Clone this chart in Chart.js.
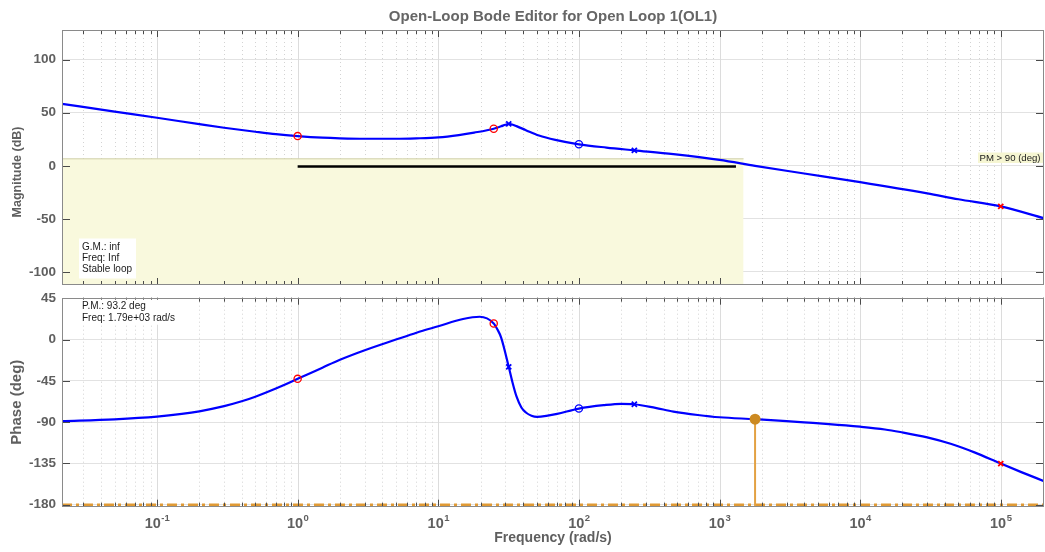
<!DOCTYPE html>
<html>
<head>
<meta charset="utf-8">
<title>Open-Loop Bode Editor</title>
<script src="https://cdn.jsdelivr.net/npm/chart.js"></script>
<style>
  body { margin: 0; background: #fff; }
  #wrap { position: relative; width: 1045px; height: 552px; }
  #magCanvas { position: absolute; left: 0; top: 0; }
  #phaseCanvas { position: absolute; left: 0; top: 290px; }
</style>
</head>
<body>
<div id="wrap">
  <canvas id="magCanvas" width="1045" height="290"></canvas>
  <canvas id="phaseCanvas" width="1045" height="262"></canvas>
</div>
<script>
// frequency range (rad/s)
const xMin = 0.0211;
const xMax = 203000;
const decadeExps = [-2, -1, 0, 1, 2, 3, 4, 5];
const labelDecades = [0.1, 1, 10, 100, 1000, 10000, 100000];

// magnitude curve
const magFreq = [0.0211, 0.05, 0.1, 0.2, 0.3, 0.5, 0.7, 1, 1.5, 2, 3, 5, 7, 10, 14, 18, 24.8, 28, 30, 31.7, 33.5, 36, 42, 52, 68, 100, 157, 248, 470, 1000, 1790, 4000, 10000, 30000, 50000, 100000, 203000];
const magDb = [58.4, 51.1, 45.3, 39.3, 35.9, 32.1, 29.8, 28.0, 26.5, 25.9, 25.5, 25.5, 25.9, 26.8, 29.0, 31.3, 35.0, 37.3, 38.7, 39.6, 39.0, 37.4, 33.6, 28.6, 24.5, 20.3, 17.2, 14.6, 11.0, 5.6, 0.0, -7.2, -15.4, -26.0, -31.5, -38.2, -49.4];
const magTicks = [100, 50, 0, -50, -100];

// phase curve
const phFreq = [0.0211, 0.05, 0.1, 0.15, 0.2, 0.3, 0.4, 0.5, 0.7, 1, 1.5, 2, 3, 5, 7, 10, 15, 19.7, 24.8, 26.3, 28, 31.7, 33.5, 36, 39, 42, 46, 50.4, 60, 70, 100, 150, 200, 248, 350, 470, 700, 1000, 1790, 3000, 4000, 6000, 10000, 15000, 19300, 30000, 44000, 65000, 100000, 140000, 203000];
const phDeg = [-88.9, -87.0, -84.1, -81.1, -78.2, -72.6, -67.3, -62.3, -53.4, -42.8, -30.6, -22.0, -11.6, 0, 7.5, 14.5, 22.4, 24.9, 17.6, 11.3, 2.2, -29.7, -45, -62, -74, -79.5, -83, -84.3, -83.0, -81, -75.2, -71.5, -70.0, -70.5, -74.5, -78.5, -82.2, -84.7, -86.8, -89.0, -90.3, -92.1, -95.0, -98.0, -100.8, -106.6, -113.6, -123, -135.2, -144.5, -154.3];
const phaseTicks = [45, 0, -45, -90, -135, -180];

// compensator / plant markers
const redCircleFreq = [1, 24.8];
const redCircleMag = [28.0, 35.0];
const redCirclePhase = [-42.8, 17.6];
const blueCircleFreq = [100];
const blueCircleMag = [20.3];
const blueCirclePhase = [-75.2];
const blueCrossFreq = [31.7, 248];
const blueCrossMag = [39.6, 14.6];
const blueCrossPhase = [-29.7, -70.5];
const redCrossFreq = [100000];
const redCrossMag = [-38.2];
const redCrossPhase = [-135.2];

// requirement region and margins
const regionFreq = [xMin, 1483];
const regionTop = 6.6;
const zeroLineFreq = [1, 1309];
const zeroLineDb = -0.6;
const pmFreq = 1790;
const pmPhase = -86.8;
const phaseFloor = -180;

const FONT = "'Liberation Sans', Arial, Helvetica, sans-serif";
const GREY = '#5f5f5f';
Chart.defaults.font.family = FONT;

const pts = (xs, ys) => xs.map((x, i) => ({ x, y: ys[i] }));

// all log ticks 1..9 x 10^n inside the range
const xGrid = [];
decadeExps.forEach(n => {
  for (let k = 1; k <= 9; k++) {
    const v = Number((k * Math.pow(10, n)).toPrecision(6));
    if (v > xMin && v < xMax) xGrid.push({ v, major: k === 1 });
  }
});

const boxPlugin = {
  id: 'matlabBox',
  beforeDatasetsDraw(chart) {
    const { ctx, chartArea: a } = chart;
    const x = chart.scales.x;
    ctx.save();
    ctx.lineWidth = 1;
    xGrid.forEach(t => {
      const px = Math.round(x.getPixelForValue(t.v)) + 0.5;
      ctx.strokeStyle = t.major ? '#dcdcdc' : '#d3d3d3';
      ctx.setLineDash(t.major ? [] : [1, 3]);
      ctx.beginPath();
      ctx.moveTo(px, a.top);
      ctx.lineTo(px, a.bottom);
      ctx.stroke();
    });
    ctx.restore();
  },
  afterDatasetsDraw(chart, args, opts) {
    const { ctx, chartArea: a } = chart;
    const x = chart.scales.x, y = chart.scales.y;
    ctx.save();
    ctx.lineWidth = 1;
    ctx.strokeStyle = '#4a4a4a';
    xGrid.forEach(t => {
      const px = Math.round(x.getPixelForValue(t.v)) + 0.5;
      const len = t.major ? 7 : 4;
      ctx.beginPath();
      ctx.moveTo(px, a.top); ctx.lineTo(px, a.top + len);
      ctx.moveTo(px, a.bottom); ctx.lineTo(px, a.bottom - len);
      ctx.stroke();
    });
    opts.yTicks.forEach(v => {
      const py = Math.round(y.getPixelForValue(v)) + 0.5;
      ctx.beginPath();
      ctx.moveTo(a.left, py); ctx.lineTo(a.left + 8, py);
      ctx.moveTo(a.right, py); ctx.lineTo(a.right - 8, py);
      ctx.stroke();
    });
    ctx.strokeStyle = '#8a8a8a';
    ctx.strokeRect(Math.round(a.left) + 0.5, Math.round(a.top) + 0.5, Math.round(a.right - a.left) - 1, Math.round(a.bottom - a.top) - 1);
    ctx.restore();
  }
};

// small text boxes, 10^n tick labels and the rotated magnitude label
const notePlugin = {
  id: 'notes',
  afterDraw(chart, args, opts) {
    const { ctx, chartArea: a } = chart;
    ctx.save();
    ctx.textBaseline = 'middle';
    (opts.boxes || []).forEach(b => {
      const left = b.fromRight ? a.right - b.dx : a.left + b.dx;
      const top = b.fromBottom ? a.bottom - b.dy : a.top + b.dy;
      ctx.fillStyle = b.bg;
      ctx.fillRect(left, top, b.w, b.h);
      ctx.fillStyle = '#1a1a1a';
      ctx.font = (b.size || 10) + 'px ' + FONT;
      b.lines.forEach((s, i) => ctx.fillText(s, left + b.pad, top + b.first + i * b.step));
    });
    if (opts.decadeLabels) {
      const x = chart.scales.x;
      ctx.fillStyle = GREY;
      ctx.textBaseline = 'alphabetic';
      ctx.textAlign = 'left';
      labelDecades.forEach(v => {
        const exp = String(Math.round(Math.log10(v)));
        ctx.font = 'bold 14.5px ' + FONT;
        const wBase = ctx.measureText('10').width;
        ctx.font = 'bold 9.5px ' + FONT;
        const wExp = ctx.measureText(exp).width;
        const start = x.getPixelForValue(v) - (wBase + wExp) / 2;
        const base = a.bottom + 21.6;
        ctx.font = 'bold 14.5px ' + FONT;
        ctx.fillText('10', start, base);
        ctx.font = 'bold 9.5px ' + FONT;
        ctx.fillText(exp, start + wBase + 0.5, base - 7.5);
      });
    }
    if (opts.sideLabel) {
      const s = opts.sideLabel;
      ctx.translate(s.x, a.top + s.dy);
      ctx.rotate(-Math.PI / 2);
      ctx.font = 'bold ' + s.size + 'px ' + FONT;
      ctx.fillStyle = GREY;
      ctx.textAlign = 'center';
      ctx.textBaseline = 'middle';
      ctx.fillText(s.text, 0, 0);
    }
    ctx.restore();
  }
};

const yTickStyle = { color: GREY, font: { size: 13.5, weight: 'bold' }, padding: 6 };
// fixed axis width, and no extra room reserved for the end labels
const fixY = s => { s.width = 62; s.paddingTop = 0; s.paddingBottom = 0; };

const curve = (data) => ({
  type: 'line', data, borderColor: '#0000ff', borderWidth: 2.2, pointRadius: 0,
  cubicInterpolationMode: 'monotone', fill: false, order: 1
});
const markers = (data, color, style) => ({
  type: 'scatter', data, showLine: false, pointStyle: style, pointRadius: 3.6, pointHoverRadius: 3.6,
  borderColor: color, backgroundColor: 'rgba(0,0,0,0)', pointBorderWidth: style === 'circle' ? 1.3 : 1.8, order: 0
});

new Chart(document.getElementById('magCanvas'), {
  type: 'line',
  data: {
    datasets: [
      curve(pts(magFreq, magDb)),
      markers(pts(redCircleFreq, redCircleMag), '#ff0000', 'circle'),
      markers(pts(blueCircleFreq, blueCircleMag), '#0000ff', 'circle'),
      markers(pts(blueCrossFreq, blueCrossMag), '#0000ff', 'crossRot'),
      markers(pts(redCrossFreq, redCrossMag), '#ff0000', 'crossRot'),
      {
        type: 'line', data: zeroLineFreq.map(f => ({ x: f, y: zeroLineDb })),
        borderColor: '#000000', borderWidth: 2.5, pointRadius: 0, fill: false, order: 2
      },
      {
        type: 'line', data: regionFreq.map(f => ({ x: f, y: regionTop })),
        borderColor: '#cfcfa8', borderWidth: 1, pointRadius: 0,
        fill: 'start', backgroundColor: '#f9f9dd', order: 3
      }
    ]
  },
  options: {
    responsive: false,
    animation: false,
    layout: { autoPadding: false, padding: { left: 0, right: 1, top: 0, bottom: 5 } },
    plugins: {
      legend: { display: false },
      tooltip: { enabled: false },
      title: {
        display: true, fullSize: false,
        text: 'Open-Loop Bode Editor for Open Loop 1(OL1)',
        color: '#666666', font: { size: 15, weight: 'bold' },
        padding: { top: 8, bottom: 4 }
      },
      matlabBox: { yTicks: magTicks },
      notes: {
        sideLabel: { text: 'Magnitude (dB)', x: 17.5, dy: 142, size: 12.5 },
        boxes: [
          { dx: 17, dy: 46.5, fromBottom: true, w: 57, h: 40, bg: '#ffffff', first: 8.5, step: 11, pad: 3,
            lines: ['G.M.: inf', 'Freq: Inf', 'Stable loop'] },
          { dx: 66, dy: 122.5, fromRight: true, w: 65, h: 10.5, bg: '#f6f6d2', first: 5.5, step: 11, pad: 1.5, size: 9.6,
            lines: ['PM > 90 (deg)'] }
        ]
      }
    },
    scales: {
      x: {
        type: 'logarithmic', min: xMin, max: xMax,
        ticks: { display: false }, grid: { display: false }, border: { display: false },
        afterFit: s => { s.height = 0; }
      },
      y: {
        min: -112.3, max: 128,
        afterBuildTicks: s => { s.ticks = magTicks.map(v => ({ value: v })); },
        ticks: yTickStyle,
        grid: { color: '#e2e2e2', drawTicks: false },
        border: { display: false },
        afterFit: fixY
      }
    }
  },
  plugins: [boxPlugin, notePlugin]
});

new Chart(document.getElementById('phaseCanvas'), {
  type: 'line',
  data: {
    datasets: [
      curve(pts(phFreq, phDeg)),
      markers(pts(redCircleFreq, redCirclePhase), '#ff0000', 'circle'),
      markers(pts(blueCircleFreq, blueCirclePhase), '#0000ff', 'circle'),
      markers(pts(blueCrossFreq, blueCrossPhase), '#0000ff', 'crossRot'),
      markers(pts(redCrossFreq, redCrossPhase), '#ff0000', 'crossRot'),
      {
        type: 'line', data: [{ x: pmFreq, y: pmPhase }, { x: pmFreq, y: -182.2 }],
        borderColor: '#e3a143', borderWidth: 2, fill: false,
        pointRadius: [4.5, 0], pointHoverRadius: [4.5, 0],
        pointBackgroundColor: '#cc8a22', pointBorderColor: '#cc8a22', order: 0
      },
      {
        type: 'line', data: [{ x: xMin, y: phaseFloor }, { x: xMax, y: phaseFloor }],
        borderColor: '#e09a35', borderWidth: 2.4, borderDash: [10, 4, 3, 4], pointRadius: 0, fill: false, order: 2
      }
    ]
  },
  options: {
    responsive: false,
    animation: false,
    layout: { autoPadding: false, padding: { left: 0, right: 1, top: 7.7, bottom: 0 } },
    plugins: {
      legend: { display: false },
      tooltip: { enabled: false },
      matlabBox: { yTicks: phaseTicks },
      notes: {
        decadeLabels: true,
        boxes: [
          { dx: 17, dy: 2, w: 92, h: 25, bg: '#ffffff', first: 7, step: 12, pad: 3,
            lines: ['P.M.: 93.2 deg', 'Freq: 1.79e+03 rad/s'] }
        ]
      }
    },
    scales: {
      x: {
        type: 'logarithmic', min: xMin, max: xMax,
        afterBuildTicks: s => { s.ticks = labelDecades.map(v => ({ value: v })); },
        ticks: { display: false },
        grid: { display: false }, border: { display: false },
        title: { display: true, text: 'Frequency (rad/s)', color: GREY, font: { size: 14, weight: 'bold' }, padding: { top: 0, bottom: 5 } },
        afterFit: s => { s.height = 45.3; }
      },
      y: {
        min: -182.2, max: 45.65,
        afterBuildTicks: s => { s.ticks = phaseTicks.map(v => ({ value: v })); },
        ticks: yTickStyle,
        grid: { color: '#e2e2e2', drawTicks: false },
        border: { display: false },
        title: { display: true, text: 'Phase (deg)', color: GREY, font: { size: 15, weight: 'bold' }, padding: { top: 8, bottom: 0 } },
        afterFit: fixY
      }
    }
  },
  plugins: [boxPlugin, notePlugin]
});
</script>
</body>
</html>
